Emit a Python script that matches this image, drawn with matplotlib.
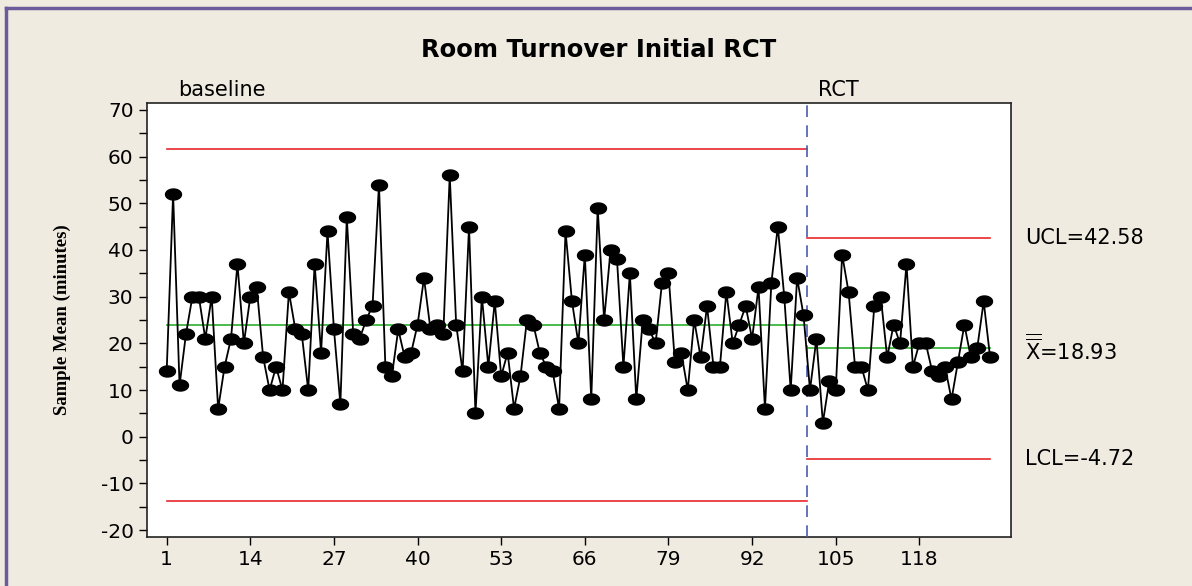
import matplotlib
matplotlib.use('Agg')
import matplotlib.pyplot as plt
import matplotlib.transforms as mtransforms
from matplotlib.path import Path
from matplotlib.lines import Line2D
import numpy as np

plt.rcParams['axes.unicode_minus'] = False

# sample means, baseline (1-100) then RCT (101-129)
baseline = [14, 52, 11, 22, 30, 30, 21, 30, 6, 15,
            21, 37, 20, 30, 32, 17, 10, 15, 10, 31,
            23, 22, 10, 37, 18, 44, 23, 7, 47, 22,
            21, 25, 28, 54, 15, 13, 23, 17, 18, 24,
            34, 23, 24, 22, 56, 24, 14, 45, 5, 30,
            15, 29, 13, 18, 6, 13, 25, 24, 18, 15,
            14, 6, 44, 29, 20, 39, 8, 49, 25, 40,
            38, 15, 35, 8, 25, 23, 20, 33, 35, 16,
            18, 10, 25, 17, 28, 15, 15, 31, 20, 24,
            28, 21, 32, 6, 33, 45, 30, 10, 34, 26]
rct = [10, 21, 3, 12, 10, 39, 31, 15, 15, 10,
       28, 30, 17, 24, 20, 37, 15, 20, 20, 14,
       13, 15, 8, 16, 24, 17, 19, 29, 17]

stage_names = ['baseline', 'RCT']
ucl = [61.6, 42.58]
center = [23.88, 18.93]
lcl = [-13.8, -4.72]
x_ticks = [1, 14, 27, 40, 53, 66, 79, 92, 105, 118]

values = baseline + rct
x = np.arange(1, len(values) + 1)
n_base = len(baseline)
split = n_base + 0.5

bg = '#F0EBE1'
fig = plt.figure(figsize=(11.92, 5.86), dpi=100, facecolor=bg)
ax = fig.add_axes([0.1231, 0.0841, 0.7248, 0.7396])
ax.set_facecolor('white')

# control limits for each stage
spans = [(1, split), (split, len(values))]
for (x0, x1), u, c, l in zip(spans, ucl, center, lcl):
    ax.plot([x0, x1], [u, u], color='#E8262C', lw=1.2, zorder=2)
    ax.plot([x0, x1], [l, l], color='#E8262C', lw=1.2, zorder=2)
    ax.plot([x0, x1], [c, c], color='#3DB53D', lw=1.3, zorder=2)

ax.axvline(split, color='#4A5CB0', lw=1.2, dashes=(7, 5), zorder=3)

# ellipse marker
t = np.linspace(0, 2 * np.pi, 40)
ell = Path(np.column_stack([1.45 * np.cos(t), np.sin(t)]), closed=True)
ax.plot(x, values, color='black', lw=1.3, marker=ell, markersize=11.5,
        markerfacecolor='black', markeredgecolor='black', zorder=4)

ax.set_xlim(-2.1, 132.2)
ax.set_ylim(-21.4, 71.4)
ax.set_xticks(x_ticks)
ax.set_yticks(np.arange(-20, 71, 10))
ax.set_yticks(np.arange(-20, 71, 5), minor=True)
ax.tick_params(axis='both', which='both', direction='out', color='black',
               labelsize=14.5, width=1.0)
ax.tick_params(axis='both', which='major', length=6)
ax.tick_params(axis='y', which='minor', length=6)
for s in ax.spines.values():
    s.set_linewidth(1.2)
    s.set_color('#222222')

ax.set_ylabel('Sample Mean (minutes)', family='Liberation Serif',
              fontweight='bold', fontsize=13.5)
ax.yaxis.set_label_coords(-0.088, 0.5)

fig.text(0.502, 0.9147, 'Room Turnover Initial RCT', ha='center', va='center',
         fontsize=17.5, fontweight='bold')
fig.text(0.1493, 0.8464, stage_names[0], ha='left', va='center', fontsize=15)
fig.text(0.686, 0.8464, stage_names[1], ha='left', va='center', fontsize=15)

tr = mtransforms.blended_transform_factory(fig.transFigure, ax.transData)
ax.text(0.86, ucl[1], f'UCL={ucl[1]:.2f}', transform=tr, ha='left', va='center',
        fontsize=15, clip_on=False)
ax.text(0.86, center[1], r'$\overline{\overline{\mathrm{X}}}$' + f'={center[1]:.2f}',
        transform=tr, ha='left', va='center', fontsize=15, clip_on=False)
ax.text(0.86, lcl[1], f'LCL={lcl[1]:.2f}', transform=tr, ha='left', va='center',
        fontsize=15, clip_on=False)

# purple frame along top and left
fig.add_artist(Line2D([0.005, 1.0], [0.986, 0.986], color='#6B5C9C', lw=2.5,
                      transform=fig.transFigure))
fig.add_artist(Line2D([0.005, 0.005], [0.0, 0.986], color='#6B5C9C', lw=2.5,
                      transform=fig.transFigure))

fig.savefig('out.png', dpi=100, facecolor=bg)
